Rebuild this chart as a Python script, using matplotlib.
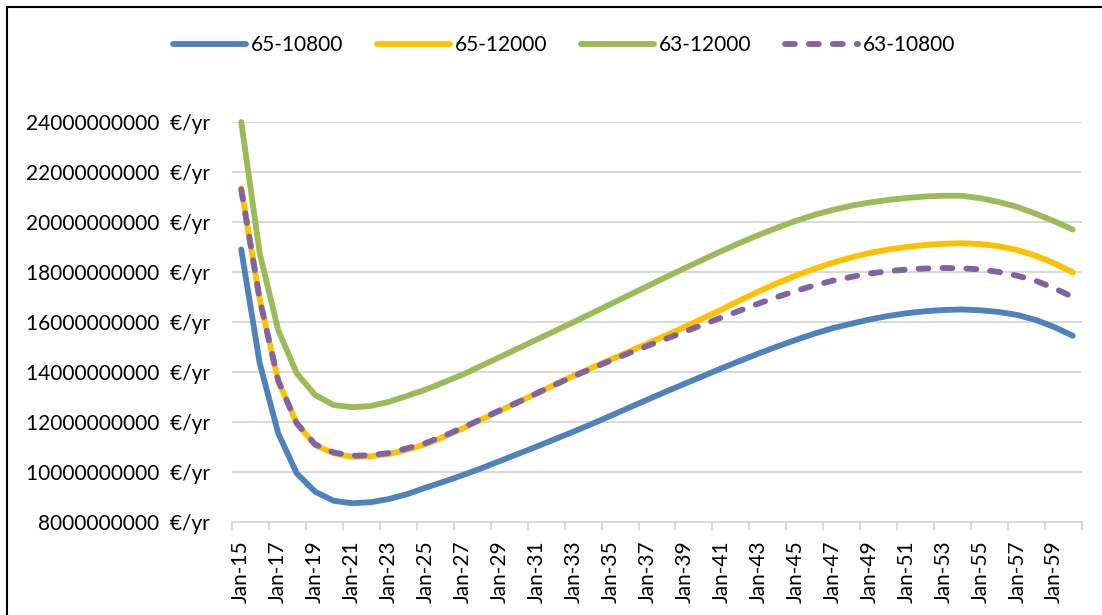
import matplotlib
matplotlib.use("Agg")
import matplotlib.pyplot as plt
from matplotlib.patches import Rectangle
import numpy as np

plt.rcParams['font.family'] = ['Lato', 'DejaVu Sans']

# Jahre (Kategorien), eine pro Jahr
jahre = list(range(2015, 2061))

# Werte in Mrd. €/yr
serie_65_10800 = [18.9, 14.35, 11.55, 9.95, 9.21, 8.85, 8.75, 8.79, 8.92, 9.12,
                  9.38, 9.62, 9.88, 10.15, 10.44, 10.73, 11.02, 11.32, 11.62, 11.93,
                  12.25, 12.58, 12.9, 13.22, 13.53, 13.84, 14.15, 14.45, 14.74, 15.02,
                  15.28, 15.53, 15.75, 15.93, 16.1, 16.24, 16.35, 16.43, 16.48, 16.5,
                  16.47, 16.4, 16.28, 16.08, 15.8, 15.45]
serie_65_12000 = [21.35, 16.9, 13.65, 11.95, 11.08, 10.75, 10.61, 10.63, 10.72, 10.9,
                  11.12, 11.42, 11.75, 12.1, 12.45, 12.8, 13.15, 13.5, 13.85, 14.18,
                  14.5, 14.82, 15.14, 15.47, 15.8, 16.15, 16.5, 16.87, 17.22, 17.55,
                  17.85, 18.12, 18.37, 18.58, 18.76, 18.9, 19.0, 19.08, 19.13, 19.15,
                  19.12, 19.03, 18.88, 18.65, 18.35, 17.98]
serie_63_12000 = [24.0, 18.75, 15.68, 13.95, 13.08, 12.68, 12.59, 12.64, 12.81, 13.05,
                  13.3, 13.6, 13.9, 14.25, 14.6, 14.95, 15.3, 15.65, 16.0, 16.36,
                  16.72, 17.08, 17.44, 17.8, 18.15, 18.5, 18.84, 19.17, 19.48, 19.77,
                  20.04, 20.28, 20.48, 20.65, 20.78, 20.88, 20.96, 21.02, 21.05, 21.05,
                  20.95, 20.8, 20.6, 20.33, 20.03, 19.7]
serie_63_10800 = [21.3, 16.9, 13.65, 11.95, 11.1, 10.78, 10.65, 10.67, 10.76, 10.95,
                  11.16, 11.45, 11.78, 12.12, 12.47, 12.8, 13.15, 13.5, 13.83, 14.15,
                  14.46, 14.76, 15.05, 15.33, 15.61, 15.9, 16.18, 16.46, 16.74, 17.0,
                  17.24, 17.46, 17.65, 17.8, 17.94, 18.03, 18.1, 18.14, 18.16, 18.15,
                  18.1, 18.0, 17.85, 17.65, 17.35, 17.0]

y_ticks = [8000000000, 10000000000, 12000000000, 14000000000, 16000000000,
           18000000000, 20000000000, 22000000000, 24000000000]

fig = plt.figure(figsize=(11.02, 6.15), dpi=100)
ax = fig.add_axes([232 / 1102, 1 - 522 / 615, 850 / 1102, 400 / 615])

x = np.arange(len(jahre))
lw = 4.2
ax.plot(x, np.array(serie_65_10800) * 1e9, color='#4F81BD', lw=lw, label='65-10800',
        solid_capstyle='round', solid_joinstyle='round', clip_on=False, zorder=3)
ax.plot(x, np.array(serie_65_12000) * 1e9, color='#FFC000', lw=lw, label='65-12000',
        solid_capstyle='round', solid_joinstyle='round', clip_on=False, zorder=3)
ax.plot(x, np.array(serie_63_12000) * 1e9, color='#9BBB59', lw=lw, label='63-12000',
        solid_capstyle='round', solid_joinstyle='round', clip_on=False, zorder=3)
ax.plot(x, np.array(serie_63_10800) * 1e9, color='#8064A2', lw=lw, label='63-10800',
        dashes=(1.7, 2.4), dash_capstyle='round', clip_on=False, zorder=4)

ax.set_xlim(-0.5, len(jahre) - 0.5)
ax.set_ylim(8e9, 24e9)

# y-Achse
ax.set_yticks(y_ticks)
ax.set_yticklabels([f"{v}  €/yr" for v in y_ticks])
ax.tick_params(axis='y', length=0, pad=16, labelsize=15, colors='black')
ax.grid(axis='y', color='#D9D9D9', lw=1.4)
ax.set_axisbelow(True)

# x-Achse: Beschriftung jede zweite Kategorie, Striche dazwischen
ax.set_xticks(x[::2])
ax.set_xticklabels([f"Jan-{j % 100:02d}" for j in jahre[::2]], rotation=90)
ax.set_xticks(np.arange(-0.5, len(jahre), 2), minor=True)
ax.tick_params(axis='x', which='major', length=0, pad=13, labelsize=15)
ax.tick_params(axis='x', which='minor', length=6, width=1.4, color='#D9D9D9')

for s in ['left', 'right', 'top']:
    ax.spines[s].set_visible(False)
ax.spines['bottom'].set_color('#D9D9D9')
ax.spines['bottom'].set_linewidth(1.4)

fig.legend(loc='center', bbox_to_anchor=(0.512, 1 - 45 / 615), ncol=4, frameon=False,
           fontsize=15, handlelength=3.5, handletextpad=0.25, columnspacing=1.6)

# Rahmen des Diagrammbereichs
fig.patches.append(Rectangle((7 / 1102, -0.1), 1.2, 1.1 - 7 / 615, transform=fig.transFigure,
                             fill=False, ec='black', lw=1.5))

fig.savefig('out.png', dpi=100)
